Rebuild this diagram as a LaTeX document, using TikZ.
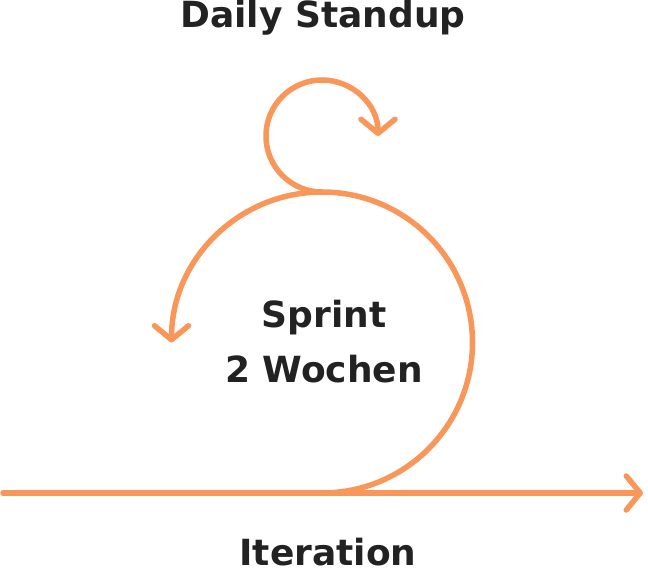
\documentclass[tikz,border=0pt]{standalone}
\usepackage{fontspec}
\setmainfont{DejaVu Sans}
\usetikzlibrary{arrows.meta}
\definecolor{sprintorange}{HTML}{F9965A}
\definecolor{textdark}{HTML}{222222}
\begin{document}
\begin{tikzpicture}
    [x = 1pt, y = 1pt,
     flow/.style = {draw = sprintorange, line width = 5.5pt, line cap = round,
                    -{Straight Barb[length = 14pt, width = 34pt, line cap = round, line join = round]}},
     caption/.style = {text = textdark, font = \bfseries\fontsize{36}{54}\selectfont, inner sep = 0pt, anchor = base}]
    \useasboundingbox (0,0) rectangle (648,574);
    % the time line with the sprint loop
    \coordinate (start) at (3,81);
    \coordinate (finish) at (643,81);
    \coordinate (touch) at (322,81);
    \coordinate (top) at (322,382);
    \draw[flow] (start) -- (finish);
    \draw[flow] (touch) arc[start angle = -90, end angle = 180, radius = 150.5];
    \draw[flow] (top) arc[start angle = -90, end angle = -360, radius = 56];
    % labels
    \node[caption] (standup) at (323,546) {Daily Standup};
    \node[caption] (sprint) at (324,247) {Sprint};
    \node[caption] (weeks) at (324,192) {2 Wochen};
    \node[caption] (iteration) at (328,9) {Iteration};
\end{tikzpicture}
\end{document}
